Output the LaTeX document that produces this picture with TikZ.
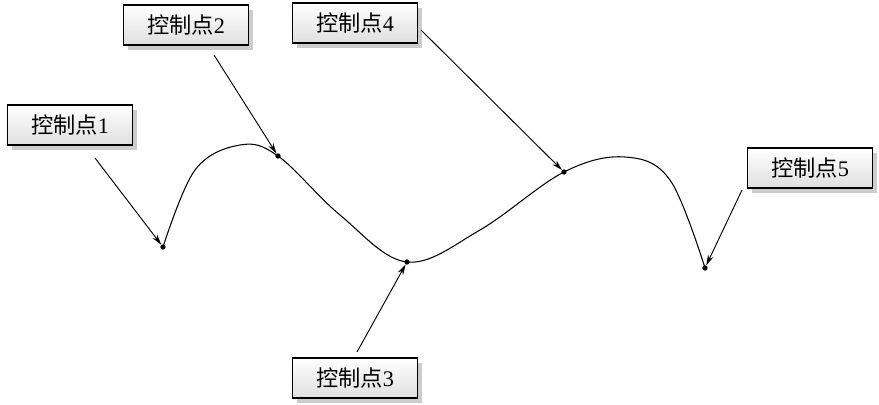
\documentclass[tikz,border=0pt]{standalone}
\usepackage{fontspec}
\setmainfont{Liberation Serif}
\newfontfamily\cjk{Noto Sans CJK SC}
\usetikzlibrary{shadows,arrows.meta}
\begin{document}
\begin{tikzpicture}[x=0.03cm,y=-0.03cm,
  lbl/.style={draw=black,line width=1.6pt,top color=white,bottom color=gray!25,
    minimum width=3.75cm,minimum height=1.2cm,inner sep=0pt,
    font=\fontsize{19}{22}\selectfont,
    drop shadow={shadow xshift=4pt,shadow yshift=-4pt,fill=gray!40,opacity=1}},
  arr/.style={-{Stealth[length=9pt,width=5pt]},line width=0.8pt},
  pt/.style={circle,fill=black,inner sep=0pt,minimum size=4.5pt}]
\useasboundingbox (0,0) rectangle (879,405);
\node[lbl] (b1) at (70,125) {{\cjk 控制点}1};
\node[lbl] (b2) at (186,25) {{\cjk 控制点}2};
\node[lbl] (b3) at (355,378) {{\cjk 控制点}3};
\node[lbl] (b4) at (355,23) {{\cjk 控制点}4};
\node[lbl] (b5) at (810,168) {{\cjk 控制点}5};
\draw[line width=0.9pt] plot[smooth,tension=0.6] coordinates{(163,247)(195,170)(240,145)(278,156)(340,215)(407,262)(480,230)(564,172)(625,157)(670,180)(705,268)};
\node[pt] (p1) at (163,247) {};
\node[pt] (p2) at (278,156) {};
\node[pt] (p3) at (407,262) {};
\node[pt] (p4) at (564,172) {};
\node[pt] (p5) at (705,268) {};
\coordinate (s1) at (95,158);
\coordinate (s2) at (214,55);
\coordinate (s3) at (357,352);
\coordinate (s4) at (421,30);
\coordinate (s5) at (742,190);
\draw[arr] (s1) -- (p1);
\draw[arr] (s2) -- (p2);
\draw[arr] (s3) -- (p3);
\draw[arr] (s4) -- (p4);
\draw[arr] (s5) -- (p5);
\end{tikzpicture}
\end{document}
